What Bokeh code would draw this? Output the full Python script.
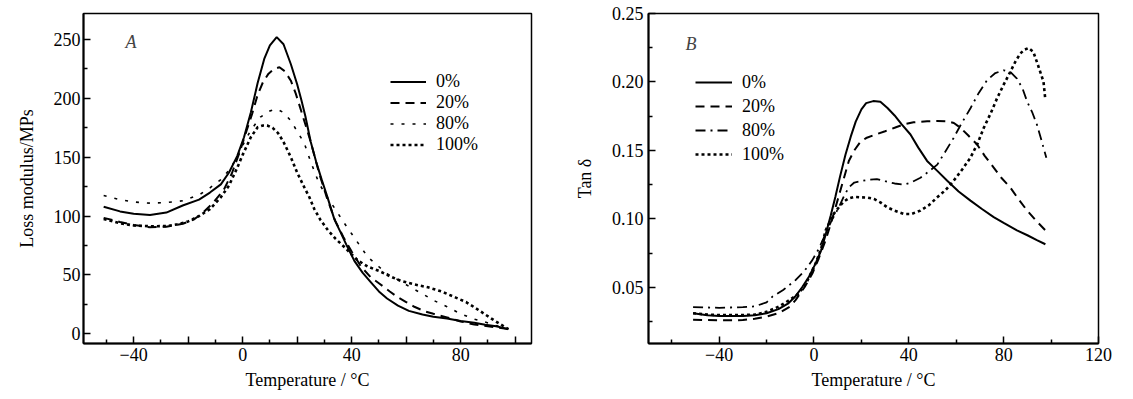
from bokeh.plotting import figure
from bokeh.layouts import row
from bokeh.models import FixedTicker, Label, PrintfTickFormatter
from bokeh.embed import file_html
from bokeh.resources import INLINE

FONT = "Liberation Serif"

# ---------------- Panel A : Loss modulus ----------------
a_t_0 = [-51, -45, -40, -34, -28, -22, -16, -12, -8, -5, -2, 0.5, 3, 5.5, 8, 10, 12.5, 15, 17.7, 20, 21.5,
         23, 25, 27, 29, 31, 33.7, 36, 38, 41, 44, 47, 50, 53, 57, 61, 66, 70, 75, 80, 85, 89, 93, 97.5]
a_v_0 = [108, 104, 102, 101, 103, 109, 114, 120, 127, 137, 151, 167, 188, 213, 234, 245, 252, 246, 229, 212, 199,
         185, 163, 146, 131, 117, 97, 86, 76, 62, 52, 44, 36, 30, 24, 19.5, 16.5, 14.5, 13, 11, 9.5, 7.8, 6.5, 4]

a_t_20 = [-51, -45, -40, -34, -28, -22, -18, -15, -11, -7, -4, -1, 1.5, 3.5, 5.5, 7.5, 9.5, 11.5, 13.5, 15.5,
          17.7, 19.5, 21, 23, 25, 28, 31, 34, 37, 40, 43.5, 47, 50, 54, 57, 60, 63, 67, 70, 75, 80, 85, 90, 97.5]
a_v_20 = [98.5, 95, 92.5, 90.5, 91, 93.5, 97, 102, 111, 122, 136, 155, 173, 187, 203, 214, 221, 225, 226.5, 223,
          215, 204, 193, 178, 163, 137, 115, 96, 82, 70, 57, 48, 43, 36, 31, 27, 23, 19, 17, 14, 10.5, 8, 6.5, 4]

a_t_80 = [-51, -45, -40, -34, -28, -22, -16, -12, -8, -5, -2, 0, 3, 6.5, 9.5, 12.5, 15, 17.7, 20, 22.6, 25, 28,
          31, 34, 37, 40, 43, 46, 50, 53, 57, 62, 66, 70, 75, 80, 85, 89, 93, 97.5]
a_v_80 = [117.5, 114, 112, 111, 111.5, 113, 118, 124, 131, 139, 150, 160, 173, 184, 189, 191, 188, 181, 172, 162,
          146, 128, 116, 106, 95, 85, 75, 65, 57, 51, 46, 39, 34, 28.5, 23, 17, 12.5, 10, 7, 4]

a_t_100 = [-51, -45, -40, -34, -28, -24, -20, -16, -12, -8, -5, -2, 0, 3, 5.5, 7.5, 9, 11, 13, 15, 17.7, 20, 22.6,
           24.5, 26.3, 28.5, 31.3, 34, 37.4, 40, 42.3, 46, 50, 54, 58, 63, 68, 73, 78, 82, 85, 88, 92.4, 97.5]
a_v_100 = [97.6, 94, 92, 91.4, 91.5, 93, 95.5, 100, 106, 116, 126, 141, 152, 167, 175.5, 177, 177, 175, 170.5, 163,
           150, 137, 124.6, 116, 106, 97, 88, 81, 73.6, 67.5, 62.3, 57, 53.5, 49, 45, 42, 39.5, 36, 31, 27, 22.6,
           18, 11.3, 4]

# ---------------- Panel B : Tan delta ----------------
b_t_0 = [-51, -45, -40, -35, -30, -25, -20, -15, -11, -8, -5, -2, 0.7, 3, 5, 7, 9, 11, 13.3, 15.5, 17.6, 20, 22,
         25, 28, 31, 34, 37, 40.7, 44, 47.7, 52, 56.2, 61, 66, 71, 75.8, 80, 85.6, 90, 94, 97.6]
b_v_0 = [0.031, 0.0295, 0.029, 0.029, 0.029, 0.0295, 0.031, 0.034, 0.038, 0.043, 0.050, 0.058, 0.0674, 0.077,
         0.089, 0.102, 0.116, 0.131, 0.147, 0.160, 0.171, 0.180, 0.1845, 0.186, 0.1855, 0.181, 0.1755, 0.169,
         0.1616, 0.152, 0.1423, 0.135, 0.1278, 0.12, 0.1133, 0.107, 0.1012, 0.097, 0.0915, 0.088, 0.0845, 0.0814]

b_t_20 = [-51, -45, -40, -35, -30, -25, -20, -14.7, -10, -7.7, -4, -0.7, 2, 4.9, 7, 9.1, 12, 14.7, 17, 19.5, 22,
          26, 30, 34, 37.9, 42, 47.7, 52, 56.2, 59, 61.8, 65, 68.8, 72, 75.8, 79, 82.8, 86, 89.9, 94, 98.3]
b_v_20 = [0.0263, 0.026, 0.0258, 0.0258, 0.026, 0.027, 0.0285, 0.0312, 0.036, 0.0408, 0.050, 0.060, 0.071,
          0.0843, 0.096, 0.1084, 0.126, 0.1422, 0.150, 0.156, 0.159, 0.1616, 0.164, 0.1665, 0.169, 0.1705,
          0.1713, 0.1715, 0.1713, 0.170, 0.1665, 0.161, 0.1543, 0.146, 0.1374, 0.130, 0.1229, 0.115, 0.106,
          0.098, 0.0903]

b_t_80 = [-51, -45, -40, -35, -30, -25, -20, -17.5, -13, -7.7, -4, -0.7, 2, 4.9, 7.5, 10.5, 12.5, 14.7, 17, 20.4,
          23, 26.5, 30, 34, 37.9, 41, 44.9, 48, 52, 55, 58.9, 62, 66, 69.5, 73, 76.5, 80, 83, 85.6, 88, 89.9, 92,
          94, 96, 98]
b_v_80 = [0.0355, 0.0352, 0.035, 0.0352, 0.0355, 0.036, 0.039, 0.0432, 0.048, 0.0553, 0.062, 0.0698, 0.078,
          0.089, 0.099, 0.1084, 0.116, 0.123, 0.1265, 0.1277, 0.1285, 0.129, 0.1275, 0.1258, 0.1249, 0.1265,
          0.130, 0.134, 0.1396, 0.148, 0.1591, 0.169, 0.1808, 0.192, 0.2013, 0.2065, 0.2085, 0.207, 0.2025,
          0.195, 0.1857, 0.178, 0.169, 0.157, 0.1446]

b_t_100 = [-51, -45, -40, -35, -30, -25, -20, -14.7, -10, -6.3, -3, 0.7, 3, 4.9, 7, 8.5, 10.5, 12.5, 14.7, 17,
           19.7, 22.5, 25.3, 28, 30.9, 34, 37.9, 41, 44.9, 48.5, 52, 55.5, 58.9, 62.5, 66, 69, 71.6, 74.5, 77.2,
           80, 82.8, 85, 87, 88.7, 90.5, 92.5, 94, 95.5, 96.8, 97.6]
b_v_100 = [0.031, 0.030, 0.0297, 0.0297, 0.0297, 0.030, 0.032, 0.036, 0.041, 0.0457, 0.054, 0.0674, 0.078,
           0.0915, 0.099, 0.104, 0.1084, 0.1125, 0.115, 0.116, 0.1157, 0.1155, 0.1145, 0.112, 0.1084, 0.106,
           0.1036, 0.1035, 0.106, 0.110, 0.1157, 0.121, 0.1278, 0.136, 0.1447, 0.155, 0.1664, 0.177, 0.188,
           0.198, 0.2074, 0.215, 0.2207, 0.2235, 0.2248, 0.222, 0.2147, 0.207, 0.2002, 0.1867]

labels = ["0%", "20%", "80%", "100%"]
a_x_major = [-40, -20, 0, 20, 40, 60, 80, 100]
a_x_minor = [-50, -30, -10, 10, 30, 50, 70, 90]
a_y_major = [0, 50, 100, 150, 200, 250]
a_y_minor = [25, 75, 125, 175, 225]
b_x_major = [-40, 0, 40, 80, 120]
b_x_minor = [-60, -20, 20, 60, 100]
b_y_major = [0.05, 0.10, 0.15, 0.20, 0.25]
b_y_minor = [0.025, 0.075, 0.125, 0.175, 0.225]

FS = "18px"


def style(p):
    p.outline_line_color = "black"
    p.outline_line_width = 1.5
    p.outline_line_alpha = 1
    p.grid.visible = False
    p.background_fill_color = "white"
    p.border_fill_color = "white"
    for ax in p.axis:
        ax.axis_line_width = 2
        ax.major_tick_in = 7
        ax.major_tick_out = 0
        ax.minor_tick_in = 4
        ax.minor_tick_out = 0
        ax.major_tick_line_width = 1.5
        ax.minor_tick_line_width = 1.5
        ax.major_label_text_font = FONT
        ax.major_label_text_font_size = FS
        ax.major_label_text_color = "black"
        ax.axis_label_text_font = FONT
        ax.axis_label_text_font_size = FS
        ax.axis_label_text_font_style = "normal"
        ax.axis_label_text_color = "black"
    p.xaxis.major_label_standoff = 4
    p.xaxis.axis_label_standoff = 6


def style_legend(p, loc, row_h, glyph_w):
    lg = p.legend[0]
    lg.location = loc
    lg.padding = 0
    lg.margin = 0
    lg.spacing = 0
    lg.border_line_alpha = 0
    lg.background_fill_alpha = 0
    lg.glyph_width = glyph_w
    lg.glyph_height = row_h
    lg.label_height = row_h
    lg.label_standoff = 10
    lg.label_text_font = FONT
    lg.label_text_font_size = FS
    lg.label_text_color = "black"


# ---------- Figure A ----------
pa = figure(width=560, height=399, x_range=(-58.4, 106.0), y_range=(-8.2, 272.1),
            output_backend="svg", toolbar_location=None,
            min_border_left=83, min_border_right=29, min_border_top=13, min_border_bottom=56)
pa.line(a_t_0, a_v_0, line_color="black", line_width=2, legend_label=labels[0])
pa.line(a_t_20, a_v_20, line_color="black", line_width=2, line_dash="9 6", legend_label=labels[1])
pa.line(a_t_80, a_v_80, line_color="black", line_width=1.6, line_dash="3 8", legend_label=labels[2])
pa.line(a_t_100, a_v_100, line_color="black", line_width=2.6, line_dash="3 3", legend_label=labels[3])
style(pa)
pa.xaxis.ticker = FixedTicker(ticks=a_x_major, minor_ticks=a_x_minor)
pa.xaxis.major_label_overrides = {-40: "\u221240", -20: "", 20: "", 60: "", 100: ""}
pa.yaxis.ticker = FixedTicker(ticks=a_y_major, minor_ticks=a_y_minor)
pa.yaxis.major_label_standoff = 3
pa.yaxis.axis_label_standoff = 14
pa.xaxis.axis_label = "Temperature / \u00b0C"
pa.yaxis.axis_label = "Loss modulus/MPs"
style_legend(pa, (307, 188), 21, 36)
pa.add_layout(Label(x=-41, y=247.7, text="A", text_font=FONT, text_font_size=FS,
                    text_font_style="italic", text_align="center", text_baseline="middle"))

# ---------- Figure B ----------
pb = figure(width=573, height=399, x_range=(-69.8, 120.0), y_range=(0.0089, 0.25),
            output_backend="svg", toolbar_location=None,
            min_border_left=88, min_border_right=35, min_border_top=13, min_border_bottom=56)
pb.line(b_t_0, b_v_0, line_color="black", line_width=2, legend_label=labels[0])
pb.line(b_t_20, b_v_20, line_color="black", line_width=2, line_dash="9 6", legend_label=labels[1])
pb.line(b_t_80, b_v_80, line_color="black", line_width=1.8, line_dash="10 5 2 5", legend_label=labels[2])
pb.line(b_t_100, b_v_100, line_color="black", line_width=2.6, line_dash="3 3", legend_label=labels[3])
style(pb)
pb.xaxis.ticker = FixedTicker(ticks=b_x_major, minor_ticks=b_x_minor)
pb.xaxis.major_label_overrides = {-40: "\u221240"}
pb.yaxis.ticker = FixedTicker(ticks=b_y_major, minor_ticks=b_y_minor)
pb.yaxis.formatter = PrintfTickFormatter(format="%.2f")
pb.yaxis.major_label_standoff = 5
pb.yaxis.axis_label_standoff = 14
pb.xaxis.axis_label = "Temperature / \u00b0C"
pb.yaxis.axis_label = "Tan \u03b4"
style_legend(pb, (47, 177), 24, 37)
pb.add_layout(Label(x=-51.9, y=0.2278, text="B", text_font=FONT, text_font_size=FS,
                    text_font_style="italic", text_align="center", text_baseline="middle"))

layout = row(pa, pb)
open("out.html", "w").write(file_html(layout, INLINE))
